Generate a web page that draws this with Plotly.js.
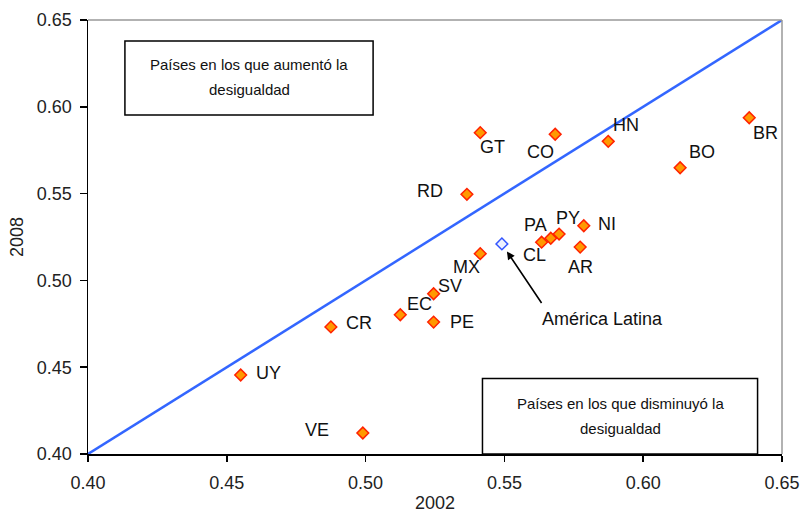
<!DOCTYPE html>
<html><head><meta charset="utf-8">
<script src="https://cdn.plot.ly/plotly-3.0.1.min.js"></script>
<style>html,body{margin:0;padding:0;background:#fff}#c{width:803px;height:517px}</style>
</head><body><div id="c"></div>
<script>
var countries = ["UY","VE","CR","EC","SV","PE","MX","RD","GT","CO","HN","BO","BR","PA","CL","PY","NI","AR"];
var gini2002 = [0.455,0.499,0.4875,0.5125,0.5245,0.5245,0.5413,0.5365,0.5413,0.5683,0.5874,0.6133,0.6382,0.5634,0.5667,0.5697,0.5786,0.5773];
var gini2008 = [0.4455,0.4121,0.4732,0.4802,0.4923,0.4760,0.5154,0.5496,0.5851,0.5842,0.5801,0.5649,0.5937,0.5220,0.5243,0.5267,0.5315,0.5192];
var regionName = "América Latina";
var region2002 = [0.5491];
var region2008 = [0.5210];
var diagonal = [0.40, 0.65];
var boxUpLines = ["Países en los que aumentó la", "desigualdad"];
var boxDownLines = ["Países en los que disminuyó la", "desigualdad"];

// label offsets in pixels (layout only)
var labelShift = {
  UY:[28,2], VE:[-46,3], CR:[28,4], EC:[19,11], SV:[16,8], PE:[28,0], MX:[-14,-13],
  RD:[-37,3], GT:[12,-14], CO:[-15,-18], HN:[18,16], BO:[22,16], BR:[16,-15],
  PA:[-6,17], CL:[-16,-17], PY:[9,16], NI:[23,2], AR:[0,-20]
};

var font = "Liberation Sans, Arial, sans-serif";
var traces = [
  {x: diagonal, y: diagonal, mode:"lines", line:{color:"#3366FF", width:2.5}, hoverinfo:"skip"},
  {x: gini2002, y: gini2008, mode:"markers", text: countries,
   marker:{symbol:"diamond", size:9, color:"#FF9900", line:{color:"#FF2200", width:1.5}}},
  {x: region2002, y: region2008, mode:"markers", text:[regionName],
   marker:{symbol:"diamond", size:9, color:"#EEF2FF", line:{color:"#3355FF", width:1.5}}}
];

var annotations = countries.map(function(c, i){
  var s = labelShift[c] || [0,0];
  return {x: gini2002[i], y: gini2008[i], text: c, showarrow:false,
          xshift: s[0], yshift: s[1], font:{family:font, size:18, color:"#111"}};
});
annotations.push({x: region2002[0], y: region2008[0], text: regionName, showarrow:false,
  xshift:101, yshift:-75, font:{family:font, size:18, color:"#111"}});
annotations.push({x: region2002[0], y: region2008[0], xref:"x", yref:"y", text:" ",
  font:{size:1}, showarrow:true, arrowhead:2, arrowsize:1, arrowwidth:1.6, arrowcolor:"#000",
  ax:41, ay:61, standoff:9});
var boxShift = [13, -12];
boxUpLines.forEach(function(t, k){
  annotations.push({x:(0.4133+0.5027)/2, y:(0.6379+0.5953)/2, text:t, showarrow:false,
    yshift: boxShift[k], font:{family:font, size:15, color:"#111"}});
});
boxDownLines.forEach(function(t, k){
  annotations.push({x:(0.5421+0.6412)/2, y:(0.40+0.4435)/2, text:t, showarrow:false,
    yshift: boxShift[k], font:{family:font, size:15, color:"#111"}});
});

var layout = {
  width:803, height:517, showlegend:false,
  margin:{l:88, r:21, t:20, b:63},
  paper_bgcolor:"#fff", plot_bgcolor:"#fff",
  font:{family:font, size:18, color:"#222"},
  xaxis:{range:[0.40,0.65], tickvals:[0.40,0.45,0.50,0.55,0.60,0.65], tickformat:".2f",
    showgrid:false, zeroline:false, showline:true, linecolor:"#000", linewidth:1.5,
    ticks:"outside", ticklen:6, tickcolor:"#000", tickwidth:1.5, ticklabelstandoff:6,
    tickfont:{family:font, size:18, color:"#222"},
    title:{text:"2002", font:{family:font, size:18, color:"#222"}, standoff:4}},
  yaxis:{range:[0.40,0.65], tickvals:[0.40,0.45,0.50,0.55,0.60,0.65], tickformat:".2f",
    showgrid:false, zeroline:false, showline:true, linecolor:"#000", linewidth:1.5,
    ticks:"outside", ticklen:7, tickcolor:"#000", tickwidth:1.5, ticklabelstandoff:4,
    tickfont:{family:font, size:18, color:"#222"},
    title:{text:"2008", font:{family:font, size:18, color:"#222"}, standoff:8}},
  shapes:[
    {type:"line", xref:"paper", yref:"paper", x0:0, x1:1, y0:1, y1:1, line:{color:"#999", width:1.5}},
    {type:"line", xref:"paper", yref:"paper", x0:1, x1:1, y0:0, y1:1, line:{color:"#999", width:1.5}},
    {type:"rect", xref:"x", yref:"y", x0:0.4133, x1:0.5027, y0:0.5953, y1:0.6379, line:{color:"#000", width:1.5}, fillcolor:"rgba(0,0,0,0)"},
    {type:"rect", xref:"x", yref:"y", x0:0.5421, x1:0.6412, y0:0.40, y1:0.4435, line:{color:"#000", width:1.5}, fillcolor:"rgba(0,0,0,0)"}
  ],
  annotations: annotations
};
Plotly.newPlot("c", traces, layout, {displayModeBar:false, staticPlot:true});
</script></body></html>
